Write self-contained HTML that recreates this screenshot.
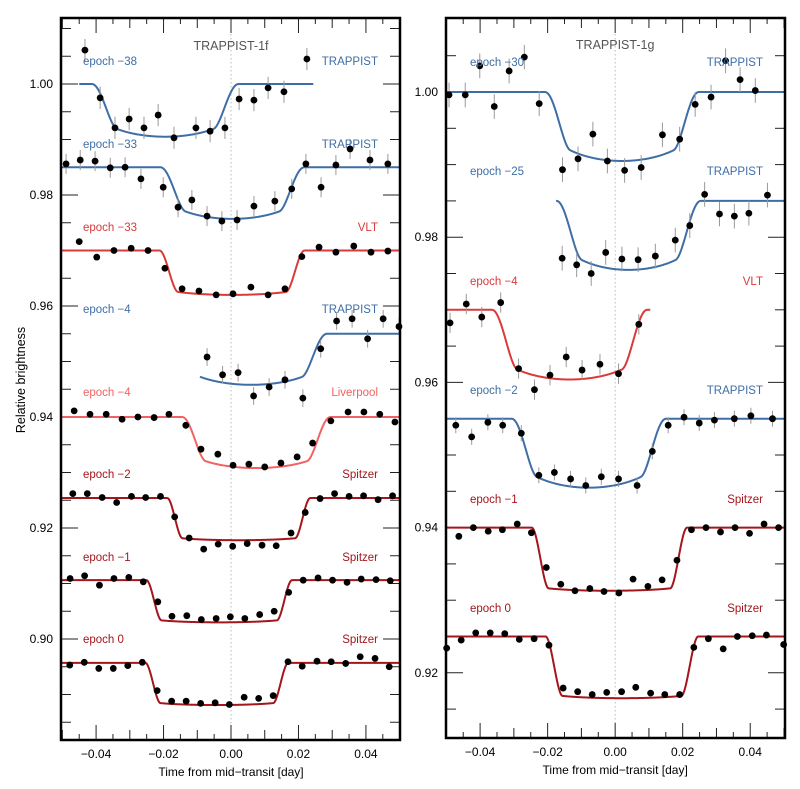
<!DOCTYPE html>
<html><head><meta charset="utf-8">
<style>
html,body{margin:0;padding:0;background:#fff;}
svg{display:block;font-family:"Liberation Sans",Arial,sans-serif;}
</style></head>
<body>
<svg id="chart" width="800" height="789" viewBox="0 0 800 789" xmlns="http://www.w3.org/2000/svg">
<text x="0" y="0" transform="translate(25,380) rotate(-90)" text-anchor="middle" font-size="12.5" fill="#000">Relative brightness</text>
</svg>
<script>
// ---------- DATA ----------
var xTicksMajor = [-0.04, -0.02, 0.00, 0.02, 0.04];
var xTickLabels = ["\u22120.04", "\u22120.02", "0.00", "0.02", "0.04"];
var leftYTicks = [1.00, 0.98, 0.96, 0.94, 0.92, 0.90];
var rightYTicks = [1.00, 0.98, 0.96, 0.94, 0.92];

// Left panel (TRAPPIST-1f)
var f_m38_t = [-0.0433,-0.0388,-0.0344,-0.0302,-0.0258,-0.0216,-0.0169,-0.0104,-0.0062,-0.0018,0.0024,0.0068,0.011,0.0157,0.0225];
var f_m38_f = [1.0061,0.9975,0.9921,0.9937,0.9921,0.9944,0.9903,0.9921,0.9915,0.9921,0.9973,0.9971,0.9993,0.9986,1.0045];
var f_m33T_t = [-0.0489,-0.0447,-0.0403,-0.0358,-0.0314,-0.0267,-0.0201,-0.0157,-0.0116,-0.0071,-0.0027,0.0018,0.0068,0.013,0.018,0.0222,0.0267,0.0311,0.0353,0.0412,0.0465];
var f_m33T_f = [0.9856,0.9863,0.9861,0.9849,0.985,0.9829,0.9814,0.9778,0.9791,0.9762,0.9753,0.9755,0.978,0.9789,0.9811,0.9856,0.9814,0.9854,0.9883,0.9863,0.9856];
var f_m33V_t = [-0.045,-0.0398,-0.0347,-0.0296,-0.0246,-0.0196,-0.0145,-0.0095,-0.0044,0.0006,0.0059,0.011,0.016,0.021,0.0261,0.0311,0.0364,0.0415,0.0465];
var f_m33V_f = [0.9716,0.9688,0.97,0.9704,0.97,0.9668,0.9631,0.9627,0.962,0.9622,0.9634,0.962,0.9631,0.9689,0.9706,0.9697,0.9708,0.9697,0.9699];
var f_m4T_t = [-0.0071,-0.0025,0.0021,0.0067,0.0113,0.016,0.0213,0.0266,0.0313,0.0359,0.0405,0.0451,0.0498];
var f_m4T_f = [0.9508,0.9476,0.948,0.9438,0.9454,0.9467,0.9434,0.9523,0.9573,0.9577,0.9541,0.9577,0.9563];
var f_m4L_t = [-0.0465,-0.0418,-0.037,-0.0323,-0.0276,-0.0228,-0.0184,-0.0134,-0.0089,-0.0039,0.0006,0.0053,0.01,0.0148,0.0196,0.0242,0.0296,0.0347,0.0394,0.0441,0.0486];
var f_m4L_f = [0.9411,0.9405,0.9405,0.9396,0.94,0.9399,0.9405,0.9385,0.9342,0.9333,0.9313,0.9315,0.931,0.9317,0.9328,0.9353,0.9393,0.9409,0.9409,0.9405,0.9391];
var f_m2_t = [-0.0469,-0.0426,-0.0382,-0.0339,-0.0295,-0.0253,-0.0209,-0.0167,-0.0124,-0.0081,-0.0038,0.0005,0.0048,0.0092,0.0134,0.0178,0.022,0.0264,0.0307,0.035,0.0393,0.0436,0.0479];
var f_m2_f = [0.9262,0.9262,0.9255,0.9246,0.9257,0.9255,0.9257,0.922,0.9182,0.9162,0.9171,0.9167,0.9172,0.9169,0.9168,0.9191,0.9228,0.9253,0.9262,0.9257,0.9258,0.9251,0.9258];
var f_m1_t = [-0.0477,-0.0434,-0.039,-0.0347,-0.0303,-0.026,-0.0217,-0.0175,-0.0131,-0.0088,-0.0044,-0.0002,0.0041,0.0085,0.0128,0.0171,0.0214,0.0258,0.0301,0.0344,0.0386,0.043,0.0472];
var f_m1_f = [0.9109,0.9114,0.9097,0.9109,0.9111,0.9103,0.9067,0.9041,0.9042,0.9035,0.9037,0.904,0.9037,0.9044,0.905,0.9084,0.9106,0.911,0.9106,0.9102,0.9108,0.9107,0.9105];
var f_0_t = [-0.0478,-0.0435,-0.0392,-0.0349,-0.0306,-0.0263,-0.0219,-0.0176,-0.0133,-0.009,-0.0047,-0.0005,0.0039,0.0082,0.0125,0.0169,0.0211,0.0255,0.0297,0.034,0.0383,0.0427,0.0469];
var f_0_f = [0.8953,0.8958,0.8947,0.8947,0.8952,0.8958,0.8907,0.8888,0.8888,0.8884,0.8885,0.8882,0.8895,0.8893,0.8898,0.8959,0.8951,0.896,0.8959,0.8956,0.8968,0.8965,0.895];

// Right panel (TRAPPIST-1g)
var g_m30_t = [-0.0492,-0.0444,-0.0401,-0.0358,-0.0314,-0.0269,-0.0225,-0.0156,-0.011,-0.0066,-0.0023,0.0028,0.0077,0.014,0.0191,0.0237,0.0284,0.0327,0.037,0.0415];
var g_m30_f = [0.9996,0.9996,1.0036,0.998,1.0029,1.0048,0.9984,0.9893,0.9908,0.9942,0.9905,0.9892,0.9896,0.9941,0.9935,0.9983,0.9993,1.0043,1.0017,1.0002];
var g_m25_t = [-0.0157,-0.0114,-0.0071,-0.0028,0.002,0.0068,0.0119,0.0178,0.0221,0.0265,0.0309,0.0353,0.0396,0.0451];
var g_m25_f = [0.9771,0.9762,0.975,0.9779,0.977,0.9769,0.9774,0.9796,0.9816,0.9859,0.9832,0.9829,0.9833,0.9858];
var g_m4_t = [-0.0489,-0.0441,-0.0395,-0.0339,-0.0286,-0.0239,-0.0193,-0.0145,-0.0098,-0.0045,0.001,0.007];
var g_m4_f = [0.9682,0.9708,0.969,0.971,0.9619,0.959,0.961,0.9635,0.9617,0.9625,0.9612,0.968];
var g_m2_t = [-0.0472,-0.0425,-0.0377,-0.0333,-0.0278,-0.0226,-0.018,-0.0132,-0.0087,-0.0041,0.001,0.0065,0.011,0.0157,0.0204,0.0249,0.0294,0.0353,0.0402,0.0466];
var g_m2_f = [0.9541,0.9525,0.9545,0.9541,0.953,0.9472,0.9476,0.9467,0.9458,0.947,0.9467,0.9458,0.9505,0.9541,0.9552,0.9544,0.9548,0.955,0.9554,0.955];
var g_m1_t = [-0.0463,-0.042,-0.0376,-0.0334,-0.029,-0.0248,-0.0204,-0.0161,-0.0119,-0.0075,-0.0033,0.0011,0.0053,0.0097,0.0139,0.0183,0.0226,0.0269,0.0312,0.0355,0.0398,0.0441,0.0484];
var g_m1_f = [0.9388,0.94,0.9395,0.9397,0.9405,0.9393,0.9345,0.9322,0.9313,0.9316,0.9312,0.931,0.9329,0.9319,0.9328,0.9355,0.9397,0.94,0.9394,0.94,0.9392,0.9405,0.94];
var g_0_t = [-0.0499,-0.0456,-0.0413,-0.037,-0.0327,-0.0284,-0.024,-0.0196,-0.0154,-0.0111,-0.0068,-0.0025,0.0019,0.0061,0.0105,0.0147,0.0191,0.0233,0.0276,0.032,0.0362,0.0406,0.0448,0.0499];
var g_0_f = [0.9234,0.9245,0.9255,0.9255,0.9254,0.9246,0.9247,0.9238,0.9179,0.9174,0.917,0.9173,0.9174,0.918,0.9172,0.917,0.917,0.9235,0.9247,0.9233,0.925,0.9251,0.9252,0.9239];

var BLUE="#3f6ea6", VLT="#d93a3a", LIV="#f26262", SPZ="#a3161b";

// ---------- RENDER ----------
var NS="http://www.w3.org/2000/svg";
var svg=document.getElementById('chart');
function mk(tag,attrs,parent){var e=document.createElementNS(NS,tag);for(var k in attrs)e.setAttribute(k,attrs[k]);(parent||svg).appendChild(e);return e;}

function makePanel(p){
  var g=mk('g',{});
  
  
  p.sx=function(t){return p.x0+(t-p.t0)/(p.t1-p.t0)*(p.x1-p.x0);};
  p.sy=function(f){return p.yRef-(f-p.fRef)*p.ppu;};
  var zl=mk('line',{x1:p.sx(0),x2:p.sx(0),y1:p.y0,y2:p.y1,stroke:"#aaa","stroke-width":0.8,"stroke-dasharray":"1.5,2.5"},g);
  
  
  for(var i=-10;i<=10;i++){
    var t=i*0.005; var x=p.sx(t); if(x<p.x0+1||x>p.x1-1)continue;
    var len=(i%4===0)?15:(i%2===0?10:6);
    mk('line',{x1:x,x2:x,y1:p.y1,y2:p.y1-len,stroke:"#222","stroke-width":1},g);
    mk('line',{x1:x,x2:x,y1:p.y0,y2:p.y0+len,stroke:"#222","stroke-width":1},g);
  }
  for(var j=0;j<xTicksMajor.length;j++){
    var tl=mk('text',{x:p.sx(xTicksMajor[j]),y:p.y1+18,"text-anchor":"middle","font-size":12},g);
    tl.textContent=xTickLabels[j];
    
    
  }
  var xt=mk('text',{x:p.sx(0),y:p.y1+36,"text-anchor":"middle","font-size":12},g);
  xt.textContent="Time from mid\u2212transit [day]";
  
  
  for(var k=-40;k<=10;k++){
    var f=1+k*0.005; var y=p.sy(f); if(y<p.y0+3||y>p.y1-3)continue;
    var lab=(k%4===0); var len2=lab?17:10;
    mk('line',{x1:p.x0,x2:p.x0+len2,y1:y,y2:y,stroke:"#222","stroke-width":1},g);
    mk('line',{x1:p.x1,x2:p.x1-len2,y1:y,y2:y,stroke:"#222","stroke-width":1},g);
  }
  for(var m=0;m<p.yTicks.length;m++){
    var yl=mk('text',{x:p.x0-8,y:p.sy(p.yTicks[m])+4,"text-anchor":"end","font-size":12},g);
    yl.textContent=p.yTicks[m].toFixed(2);
    
    
  }
  var tt=mk('text',{x:p.sx(0),y:p.titleY,"text-anchor":"middle","font-size":12.5,fill:"#555"},g);
  tt.textContent=p.title;
  
  
  p.series.forEach(function(s){
    var sg=mk('g',{},g);
    
    
    var pts=[];
    for(var t=s.m[6];t<=s.m[7]+1e-9;t+=0.0002){
      var tc=Math.max(p.t0,Math.min(p.t1,t));
      pts.push(p.sx(tc).toFixed(2)+","+p.sy(model(tc,s.m)).toFixed(2));
    }
    var pl=mk('polyline',{points:pts.join(" "),fill:"none",stroke:s.c,"stroke-width":2},sg);
    
    
    for(var i=0;i<s.t.length;i++){
      var x=p.sx(s.t[i]), y=p.sy(s.f[i]);
      if(s.e>0){
        var eb=mk('line',{x1:x,x2:x,y1:p.sy(s.f[i]+s.e),y2:p.sy(s.f[i]-s.e),stroke:"#999","stroke-width":1},sg);
        
        
      }
      var c=mk('circle',{cx:x,cy:y,r:3.4,fill:"#000"},sg);
      
      
    }
    var el=mk('text',{x:p.x0+s.ly[0],y:s.ly[1],"font-size":11.5,fill:s.c},sg);
    el.textContent=s.label;
    
    
    var il=mk('text',{x:p.x1-22,y:s.ly[1],"text-anchor":"end","font-size":11.5,fill:s.c},sg);
    il.textContent=s.inst;
    
    
  });
  var fr=mk('rect',{x:p.x0,y:p.y0,width:p.x1-p.x0,height:p.y1-p.y0,fill:"none",stroke:"#000","stroke-width":2.5},g);
  
  
}
// m = [base, depth, center, halfDur, ingress, limbDark, tStart, tEnd]
function model(t,m){
  var dt=Math.abs(t-m[2]), T=m[3], tau=m[4];
  if(dt>=T)return m[0];
  var s=Math.min(1,(T-dt)/tau); s=s*s*(3-2*s);
  var r=Math.min(1,dt/T); var prof=1-m[5]*(1-Math.sqrt(1-r*r));
  return m[0]-m[1]*s*prof;
}

makePanel({name:"panel-trappist-1f",title:"TRAPPIST-1f",titleY:50,x0:61,x1:400,y0:18,y1:740,t0:-0.0504,t1:0.0501,fRef:1.0,yRef:84,ppu:5550,yTicks:leftYTicks,
series:[
 {id:"f-epoch-m38",t:f_m38_t,f:f_m38_f,e:0.0020,c:BLUE,label:"epoch \u221238",inst:"TRAPPIST",ly:[22,65],m:[1.0,0.0095,-0.0195,0.0218,0.0075,0.6,-0.045,0.0245]},
 {id:"f-epoch-m33-trappist",t:f_m33T_t,f:f_m33T_f,e:0.0018,c:BLUE,label:"epoch \u221233",inst:"TRAPPIST",ly:[22,148],m:[0.985,0.0093,0.0004,0.0214,0.0075,0.6,-0.06,0.06]},
 {id:"f-epoch-m33-vlt",t:f_m33V_t,f:f_m33V_f,e:0.0005,c:VLT,label:"epoch \u221233",inst:"VLT",ly:[22,231],m:[0.97,0.008,0.0003,0.0215,0.0055,0.2,-0.06,0.06]},
 {id:"f-epoch-m4-trappist",t:f_m4T_t,f:f_m4T_f,e:0.0016,c:BLUE,label:"epoch \u22124",inst:"TRAPPIST",ly:[22,313],m:[0.955,0.0092,0.006,0.0225,0.0075,0.6,-0.0092,0.06]},
 {id:"f-epoch-m4-liverpool",t:f_m4L_t,f:f_m4L_f,e:0.0004,c:LIV,label:"epoch \u22124",inst:"Liverpool",ly:[22,396],m:[0.94,0.0092,0.0075,0.022,0.007,0.5,-0.06,0.06]},
 {id:"f-epoch-m2-spitzer",t:f_m2_t,f:f_m2_f,e:0.0003,c:SPZ,label:"epoch \u22122",inst:"Spitzer",ly:[22,478],m:[0.9254,0.0076,0.0023,0.0212,0.0045,0.12,-0.06,0.06]},
 {id:"f-epoch-m1-spitzer",t:f_m1_t,f:f_m1_f,e:0.0003,c:SPZ,label:"epoch \u22121",inst:"Spitzer",ly:[22,561],m:[0.9106,0.0076,-0.0035,0.0216,0.0045,0.12,-0.06,0.06]},
 {id:"f-epoch-0-spitzer",t:f_0_t,f:f_0_f,e:0.0003,c:SPZ,label:"epoch 0",inst:"Spitzer",ly:[22,643],m:[0.8957,0.0076,-0.0042,0.0212,0.0045,0.12,-0.06,0.06]}
]});

makePanel({name:"panel-trappist-1g",title:"TRAPPIST-1g",titleY:49,x0:446,x1:785,y0:18,y1:738,t0:-0.0501,t1:0.0503,fRef:1.0,yRef:92,ppu:7260,yTicks:rightYTicks,
series:[
 {id:"g-epoch-m30-trappist",t:g_m30_t,f:g_m30_f,e:0.0017,c:BLUE,label:"epoch \u221230",inst:"TRAPPIST",ly:[24,66],m:[1.0,0.0095,0.002,0.0228,0.0075,0.6,-0.06,0.06]},
 {id:"g-epoch-m25-trappist",t:g_m25_t,f:g_m25_f,e:0.0017,c:BLUE,label:"epoch \u221225",inst:"TRAPPIST",ly:[24,175],m:[0.985,0.0095,0.004,0.0214,0.0075,0.6,-0.0175,0.06]},
 {id:"g-epoch-m4-vlt",t:g_m4_t,f:g_m4_f,e:0.0014,c:VLT,label:"epoch \u22124",inst:"VLT",ly:[24,285],m:[0.97,0.0096,-0.0135,0.023,0.0075,0.55,-0.06,0.0104]},
 {id:"g-epoch-m2-trappist",t:g_m2_t,f:g_m2_f,e:0.0011,c:BLUE,label:"epoch \u22122",inst:"TRAPPIST",ly:[24,394],m:[0.955,0.0095,-0.0078,0.0229,0.0075,0.6,-0.06,0.06]},
 {id:"g-epoch-m1-spitzer",t:g_m1_t,f:g_m1_f,e:0.0003,c:SPZ,label:"epoch \u22121",inst:"Spitzer",ly:[24,503],m:[0.94,0.0087,-0.0017,0.023,0.005,0.1,-0.06,0.06]},
 {id:"g-epoch-0-spitzer",t:g_0_t,f:g_0_f,e:0.0003,c:SPZ,label:"epoch 0",inst:"Spitzer",ly:[24,612],m:[0.925,0.0085,0.002,0.0226,0.005,0.1,-0.06,0.06]}
]});
</script>
</body></html>
